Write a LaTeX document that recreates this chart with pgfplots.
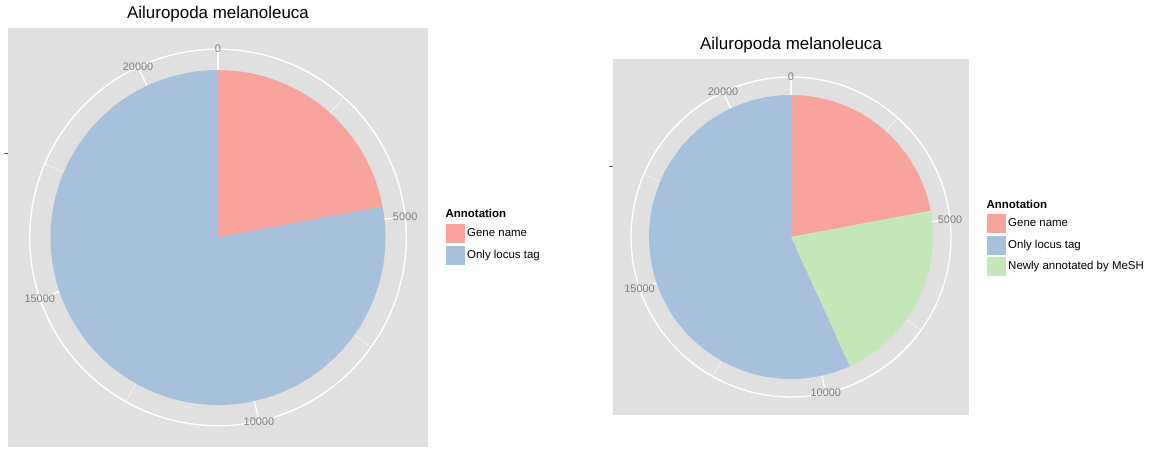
\documentclass[border=0pt]{standalone}
\usepackage{pgfplots}
\pgfplotsset{compat=1.18}
\usepackage{fontspec}
\setmainfont{Liberation Sans}
\definecolor{panel}{HTML}{E0E0E0}
\definecolor{cgene}{HTML}{F8A39C}
\definecolor{clocus}{HTML}{A7C1DC}
\definecolor{cmesh}{HTML}{C4E7B9}
\definecolor{ticklab}{HTML}{7F7F7F}
\newcommand\T{21500}% total number of genes (full circle)
\tikzset{tlab/.style={font=\fontsize{11}{13}\selectfont, text=ticklab, inner sep=0pt}}
\pgfplotsset{
  piepanel/.style={
    x=1bp, y=1bp, anchor=center,
    axis background/.style={fill=panel},
    axis line style={draw=none},
    xtick=\empty, yticklabels={},
    ytick pos=left, tick align=outside, major tick length=4bp,
    ytick style={color=black!65, line width=0.6bp},
    title style={at={(0.5,1)}, anchor=base, yshift=3.5bp, font=\fontsize{17}{20}\selectfont},
    legend style={anchor=north west, draw=none, fill=none, inner sep=0pt, row sep=0.6bp,
      font=\fontsize{11.5}{13}\selectfont, nodes={inner xsep=1.2bp, inner ysep=0pt}},
    legend cell align=left,
    clip=false,
  },
  key/.style={legend image code/.code={\draw[##1, draw=white, line width=0.8bp] (0bp,-10bp) rectangle (20bp,10bp);}},
}
\begin{document}
\begin{tikzpicture}
\path[use as bounding box] (0,0) rectangle (1161bp,455bp);
% ---------------- left panel ----------------
\begin{axis}[piepanel, at={(218bp,217.5bp)},
  xmin=-210, xmax=210, ymin=-209.5, ymax=209.5,
  ytick={84.2},
  title={Ailuropoda melanoleuca},
  legend style={at={(1.0405,0.5346)}},
]
\pgfplotsinvokeforeach{2500,7500,12500,17500}{
  \draw[white!85!panel, line width=0.45bp] (0,0) -- ({188.3*sin(#1/\T*360)},{188.3*cos(#1/\T*360)});}
\pgfplotsinvokeforeach{0,5000,10000,15000,20000}{
  \draw[white, line width=1.3bp] (0,0) -- ({188.3*sin(#1/\T*360)},{188.3*cos(#1/\T*360)});}
\addplot[white, line width=1.4bp, domain=0:360, samples=200, forget plot] ({188.3*cos(x)},{188.3*sin(x)});
% Gene name: 0 -- 4740 ; Only locus tag: 4740 -- 21500
\addplot[fill=cgene, draw=none, domain=0:4740, samples=60, forget plot]
  ({167.5*sin(x/\T*360)},{167.5*cos(x/\T*360)}) -- (0,0) -- cycle;
\addplot[fill=clocus, draw=none, domain=4740:21500, samples=160, forget plot]
  ({167.5*sin(x/\T*360)},{167.5*cos(x/\T*360)}) -- (0,0) -- cycle;
\pgfplotsinvokeforeach{0,5000,10000,15000,20000}{
  \node[tlab] at ({188.3*sin(#1/\T*360)},{188.3*cos(#1/\T*360)}) {#1};}
\addlegendimage{key, fill=cgene}\addlegendentry{Gene name}
\addlegendimage{key, fill=clocus}\addlegendentry{Only locus tag}
\end{axis}
\node[anchor=base west, font=\bfseries\fontsize{11.5}{13}\selectfont, inner sep=0pt] at (445.5bp,237bp) {Annotation};
% ---------------- right panel ----------------
\begin{axis}[piepanel, at={(791bp,218bp)},
  xmin=-178, xmax=178, ymin=-178, ymax=178,
  ytick={71},
  title={Ailuropoda melanoleuca},
  legend style={at={(1.0478,0.5674)}},
]
\pgfplotsinvokeforeach{2500,7500,12500,17500}{
  \draw[white!85!panel, line width=0.45bp] (0,0) -- ({160*sin(#1/\T*360)},{160*cos(#1/\T*360)});}
\pgfplotsinvokeforeach{0,5000,10000,15000,20000}{
  \draw[white, line width=1.3bp] (0,0) -- ({160*sin(#1/\T*360)},{160*cos(#1/\T*360)});}
\addplot[white, line width=1.4bp, domain=0:360, samples=200, forget plot] ({160*cos(x)},{160*sin(x)});
% Gene name: 0 -- 4740 ; Newly annotated by MeSH: 4740 -- 9290 ; Only locus tag: 9290 -- 21500
\addplot[fill=cgene, draw=none, domain=0:4740, samples=60, forget plot]
  ({142*sin(x/\T*360)},{142*cos(x/\T*360)}) -- (0,0) -- cycle;
\addplot[fill=cmesh, draw=none, domain=4740:9290, samples=60, forget plot]
  ({142*sin(x/\T*360)},{142*cos(x/\T*360)}) -- (0,0) -- cycle;
\addplot[fill=clocus, draw=none, domain=9290:21500, samples=140, forget plot]
  ({142*sin(x/\T*360)},{142*cos(x/\T*360)}) -- (0,0) -- cycle;
\pgfplotsinvokeforeach{0,5000,10000,15000,20000}{
  \node[tlab] at ({160*sin(#1/\T*360)},{160*cos(#1/\T*360)}) {#1};}
\addlegendimage{key, fill=cgene}\addlegendentry{Gene name}
\addlegendimage{key, fill=clocus}\addlegendentry{Only locus tag}
\addlegendimage{key, fill=cmesh}\addlegendentry{Newly annotated by MeSH}
\end{axis}
\node[anchor=base west, font=\bfseries\fontsize{11.5}{13}\selectfont, inner sep=0pt] at (986.5bp,246bp) {Annotation};
\end{tikzpicture}
\end{document}
